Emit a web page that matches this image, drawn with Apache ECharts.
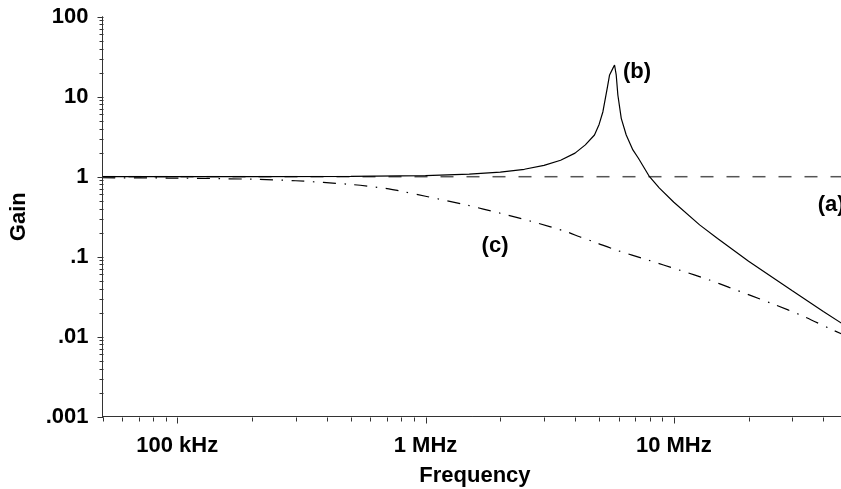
<!DOCTYPE html>
<html><head><meta charset="utf-8">
<script src="https://cdn.jsdelivr.net/npm/echarts@6/dist/echarts.min.js"></script>
<style>html,body{margin:0;padding:0;background:#fff}#c{width:841px;height:489px}</style>
</head><body><div id="c"></div>
<script>
// ---- data ----
const xTickValues = [1e5, 1e6, 1e7];
const xTickLabels = ['100 kHz', '1 MHz', '10 MHz'];
const yTickValues = [0.001, 0.01, 0.1, 1, 10, 100];
const yTickLabels = ['.001', '.01', '.1', '1', '10', '100'];
const xMinorTicks = [5e4, 6e4, 7e4, 8e4, 9e4, 2e5, 3e5, 4e5, 5e5, 6e5, 7e5, 8e5, 9e5,
  2e6, 3e6, 4e6, 5e6, 6e6, 7e6, 8e6, 9e6, 2e7, 3e7, 4e7];
const yMinorTicks = [0.002, 0.003, 0.004, 0.005, 0.006, 0.007, 0.008, 0.009,
  0.02, 0.03, 0.04, 0.05, 0.06, 0.07, 0.08, 0.09,
  0.2, 0.3, 0.4, 0.5, 0.6, 0.7, 0.8, 0.9,
  2, 3, 4, 5, 6, 7, 8, 9,
  20, 30, 40, 50, 60, 70, 80, 90];

const freqA = [5e4, 5e7];
const gainA = [1, 1];

const freqB = [5e4, 1e5, 2e5, 5e5, 1e6, 1.5e6, 2e6, 2.5e6, 3e6, 3.5e6, 4e6, 4.4e6, 4.79e6, 5.0e6,
  5.18e6, 5.39e6, 5.51e6, 5.68e6, 5.77e6, 5.86e6, 5.95e6, 6.14e6, 6.43e6, 6.84e6, 7.2e6,
  7.98e6, 8.75e6, 1e7, 1.27e7, 1.5e7, 2e7, 2.5e7, 3e7, 4e7, 5e7];
const gainB = [1.0, 1.0, 1.001, 1.008, 1.032, 1.074, 1.14, 1.238, 1.383, 1.605, 1.97, 2.5, 3.32, 4.5,
  6.49, 12.7, 18.7, 22.6, 24.9, 18.7, 10.5, 5.37, 3.32, 2.16, 1.7,
  1.0, 0.72, 0.48, 0.25, 0.169, 0.088, 0.055, 0.0375, 0.0207, 0.0132];

const freqC = [5e4, 1e5, 2e5, 3e5, 5e5, 7e5, 7.8e5, 1e6, 1.46e6, 2e6, 2.7e6, 3.7e6, 4.2e6, 4.8e6,
  5.86e6, 7.86e6, 1.05e7, 1.39e7, 1.67e7, 2.51e7, 3.31e7, 4.37e7, 5e7];
const gainC = [0.97, 0.96, 0.93, 0.89, 0.80, 0.71, 0.668, 0.57, 0.443, 0.349, 0.274, 0.205, 0.176, 0.152,
  0.121, 0.091, 0.0682, 0.0512, 0.0414, 0.0256, 0.0181, 0.0121, 0.0101];

// curve label anchors (freq, gain)
const labelNames = ['(a)', '(b)', '(c)'];
const labelFreq = [4.3e7, 7.11e6, 1.905e6];
const labelGain = [0.443, 20.4, 0.136];

// ---- chart ----
const FONT = "'Liberation Sans', Arial, sans-serif";
const AX = '#333';
const X_MIN = 5e4, X_MAX = 5e7, Y_MIN = 0.001, Y_MAX = 100;
const pairs = (xs, ys) => xs.map((x, i) => [x, ys[i]]);
const fmt = (vals, labs) => v => {
  for (let i = 0; i < vals.length; i++) if (Math.abs(v - vals[i]) / vals[i] < 1e-6) return labs[i];
  return '';
};
const tickSeries = (values, isX, len) => ({
  type: 'custom', silent: true, clip: false, z: 5,
  data: values.map(v => isX ? [v, Y_MIN] : [X_MIN, v]),
  renderItem: (params, api) => {
    const p = api.coord([api.value(0), api.value(1)]);
    const x = Math.round(p[0]) + 0.5, y = Math.round(p[1]) + 0.5;
    return {
      type: 'line',
      shape: isX ? {x1: x, y1: y, x2: x, y2: y + len} : {x1: x - len, y1: y, x2: x, y2: y},
      style: {stroke: AX, lineWidth: 1}
    };
  }
});
const labelMark = (i) => ({
  symbol: 'circle', symbolSize: 0, silent: true,
  label: {show: true, position: 'inside', formatter: labelNames[i], color: '#000',
    fontFamily: FONT, fontWeight: 'bold', fontSize: 22},
  data: [{coord: [labelFreq[i], labelGain[i]]}]
});

const chart = echarts.init(document.getElementById('c'), null, {renderer: 'canvas'});
chart.setOption({
  animation: false,
  backgroundColor: '#fff',
  grid: {left: 102.5, top: 16.7, right: -6.4, bottom: 72.3, containLabel: false, outerBoundsMode: 'none'},
  xAxis: {
    type: 'log', logBase: 10, min: X_MIN, max: X_MAX,
    name: 'Frequency', nameLocation: 'middle', nameGap: 48,
    nameTextStyle: {fontFamily: FONT, fontWeight: 'bold', fontSize: 22, color: '#000'},
    axisLine: {show: true, lineStyle: {color: AX, width: 1}},
    axisTick: {show: false},
    splitLine: {show: false},
    minorTick: {show: false},
    axisLabel: {show: true, margin: 18, formatter: fmt(xTickValues, xTickLabels),
      fontFamily: FONT, fontWeight: 'bold', fontSize: 22, color: '#000',
      showMinLabel: true, showMaxLabel: true, hideOverlap: false}
  },
  yAxis: {
    type: 'log', logBase: 10, min: Y_MIN, max: Y_MAX,
    name: 'Gain', nameLocation: 'middle', nameGap: 73,
    nameTextStyle: {fontFamily: FONT, fontWeight: 'bold', fontSize: 22, color: '#000'},
    axisLine: {show: true, lineStyle: {color: AX, width: 1}},
    axisTick: {show: false},
    splitLine: {show: false},
    minorTick: {show: false},
    axisLabel: {show: true, margin: 14, padding: [5, 0, 0, 0], formatter: fmt(yTickValues, yTickLabels),
      fontFamily: FONT, fontWeight: 'bold', fontSize: 22, color: '#000',
      showMinLabel: true, showMaxLabel: true, hideOverlap: false}
  },
  series: [
    {name: 'a', type: 'line', data: pairs(freqA, gainA), symbol: 'none', silent: true,
      lineStyle: {color: '#555', width: 1.5, type: [13, 13]}, markPoint: labelMark(0)},
    {name: 'b', type: 'line', data: pairs(freqB, gainB), symbol: 'none', silent: true,
      lineStyle: {color: '#000', width: 1.2}, markPoint: labelMark(1)},
    {name: 'c', type: 'line', data: pairs(freqC, gainC), symbol: 'none', silent: true, smooth: 0.3,
      lineStyle: {color: '#000', width: 1.2, type: [13, 8.5, 1.5, 8.5]}, markPoint: labelMark(2)},
    tickSeries(xTickValues, true, 6),
    tickSeries(xMinorTicks, true, 4),
    tickSeries(yTickValues, false, 6),
    tickSeries(yMinorTicks, false, 4)
  ]
});
</script>
</body></html>
